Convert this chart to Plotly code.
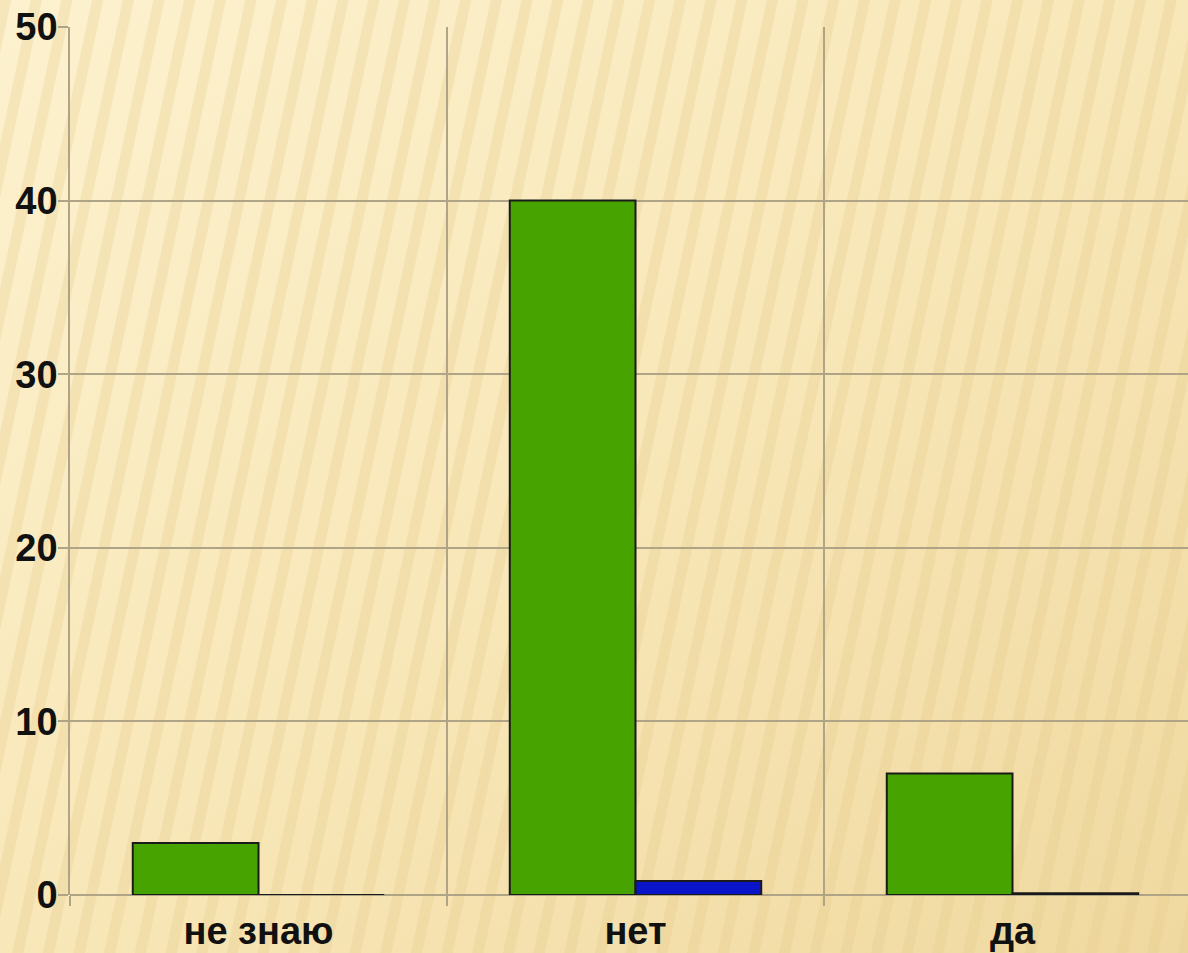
import base64
import plotly.graph_objects as go

categories = ["не знаю", "нет", "да"]
series_green = [3, 40, 7]
series_blue = [0, 0.8, 0.1]
y_ticks = [0, 10, 20, 30, 40, 50]

W, H = 1188, 953
ML, MR, MT, MB = 70, 0, 27, 58

# decorative striped background as inline SVG
svg = f'''<svg xmlns="http://www.w3.org/2000/svg" width="{W}" height="{H}">
<defs>
<linearGradient id="g" x1="0" y1="0" x2="1" y2="1">
<stop offset="0" stop-color="#fdf2cf"/>
<stop offset="0.5" stop-color="#f8e7b8"/>
<stop offset="1" stop-color="#f0d9a0"/>
</linearGradient>
<pattern id="p" width="30" height="60" patternUnits="userSpaceOnUse" patternTransform="rotate(12)">
<rect x="0" y="0" width="11" height="60" fill="#e6cc8c" fill-opacity="0.3"/>
</pattern>
</defs>
<rect width="{W}" height="{H}" fill="url(#g)"/>
<rect width="{W}" height="{H}" fill="url(#p)"/>
</svg>'''
src = "data:image/svg+xml;base64," + base64.b64encode(svg.encode()).decode()

pw = W - ML - MR
ph = H - MT - MB

fig = go.Figure()
fig.add_trace(go.Bar(x=categories, y=series_green, name="s1",
                     marker=dict(color="#46a300", line=dict(color="#1a1a1a", width=2))))
fig.add_trace(go.Bar(x=categories, y=series_blue, name="s2",
                     marker=dict(color="#0a14c8", line=dict(color="#1a1a1a", width=2))))

fig.update_layout(
    width=W, height=H,
    margin=dict(l=ML, r=MR, t=MT, b=MB),
    paper_bgcolor="#f8e7b8",
    plot_bgcolor="rgba(0,0,0,0)",
    showlegend=False,
    barmode="group",
    bargap=0.333,
    bargroupgap=0,
    font=dict(family="Liberation Sans, Arial, sans-serif", color="#111111"),
    images=[dict(source=src, xref="paper", yref="paper",
                 x=-ML / pw, y=1 + MT / ph, sizex=W / pw, sizey=H / ph,
                 xanchor="left", yanchor="top", sizing="stretch", layer="below")],
    xaxis=dict(
        type="category",
        range=[-0.5, -0.5 + pw / 377],
        tickson="boundaries",
        showgrid=True, gridcolor="#b0a486", gridwidth=1.5,
        ticks="outside", ticklen=10, tickcolor="#b0a486", tickwidth=1.5,
        ticklabelstandoff=10,
        tickfont=dict(size=38, family="Liberation Sans, Arial, sans-serif", weight="bold"),
        showline=False,
    ),
    yaxis=dict(
        range=[0, 50],
        tickvals=y_ticks,
        showgrid=True, gridcolor="#b0a486", gridwidth=1.5,
        zeroline=True, zerolinecolor="#b0a486", zerolinewidth=1.5,
        ticks="outside", ticklen=10, tickcolor="#b0a486", tickwidth=1.5,
        ticklabelstandoff=-7,
        tickfont=dict(size=38, family="Liberation Sans, Arial, sans-serif", weight="bold"),
        showline=True, linecolor="#b0a486", linewidth=1.5,
    ),
)

fig.write_html("out.html", config={"displayModeBar": False},
               post_script="document.body.style.margin='0';document.body.style.overflow='hidden';document.body.style.background='#f8e7b8';")
